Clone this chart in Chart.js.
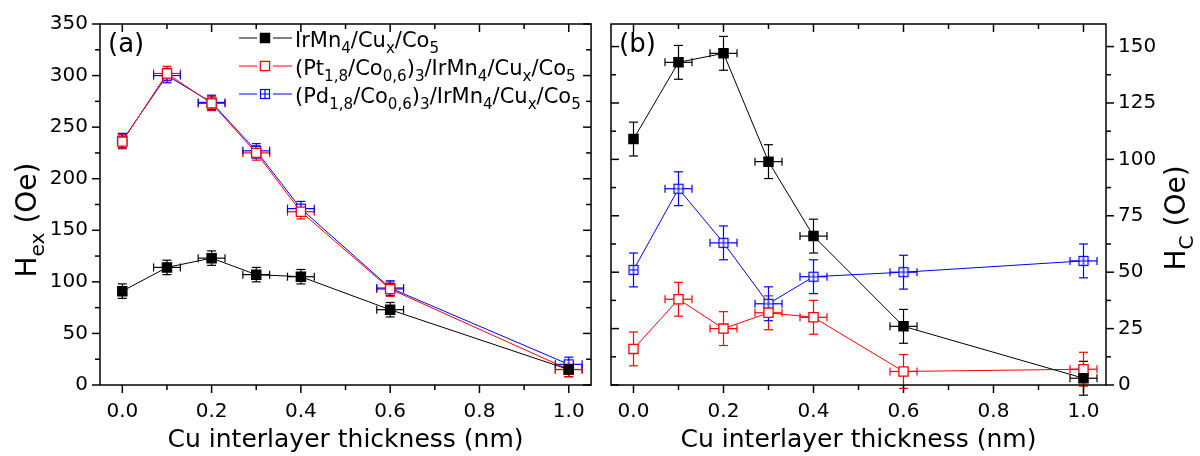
<!DOCTYPE html>
<html>
<head>
<meta charset="utf-8">
<script src="https://cdn.jsdelivr.net/npm/chart.js@4.4.1/dist/chart.umd.min.js"></script>
<style>
  html, body { margin: 0; padding: 0; background: #fff; }
  #wrap { position: relative; width: 1200px; height: 456px; }
  .panel { position: absolute; top: 0; width: 600px; height: 456px; }
</style>
</head>
<body>
<div id="wrap">
  <div class="panel" style="left:0"><canvas id="chartA" width="600" height="456"></canvas></div>
  <div class="panel" style="left:600px"><canvas id="chartB" width="600" height="456"></canvas></div>
</div>
<script>
// Data
const thickness = [0, 0.1, 0.2, 0.3, 0.4, 0.6, 1.0];
const thicknessErr = [0, 0.03, 0.03, 0.03, 0.03, 0.03, 0.03];

// (a) exchange bias field
const hexIrMn = [91, 114, 123, 107, 105, 73, 15];
const hexPt = [236, 302, 273, 225, 168, 93, 15];
const hexPd = [237, 300, 274, 227, 171, 94, 20];
const hexErr = [7, 7, 7, 7, 7, 7, 7];

// (b) coercive field
const hcIrMn = [109, 143, 147, 99, 66, 26, 3];
const hcPt = [16, 38, 25, 32, 30, 6, 7];
const hcPd = [51, 87, 63, 36, 48, 50, 55];
const hcErr = [7.5, 7.5, 7.5, 7.5, 7.5, 7.5, 7.5];

// Ticks
const xTicks = [0, 0.2, 0.4, 0.6, 0.8, 1.0];
const xMinorTicks = [0.1, 0.3, 0.5, 0.7, 0.9];
const hexTicks = [0, 50, 100, 150, 200, 250, 300, 350];
const hexMinorTicks = [25, 75, 125, 175, 225, 275, 325];
const hcTicks = [0, 25, 50, 75, 100, 125, 150];
const hcMinorTicks = [12.5, 37.5, 62.5, 87.5, 112.5, 137.5];

const seriesNames = [
  "IrMn_{4}/Cu_{x}/Co_{5}",
  "(Pt_{1,8}/Co_{0,6})_{3}/IrMn_{4}/Cu_{x}/Co_{5}",
  "(Pd_{1,8}/Co_{0,6})_{3}/IrMn_{4}/Cu_{x}/Co_{5}"
];

const FONT = '"DejaVu Sans", "Liberation Sans", sans-serif';
const BLACK = "#000000";
const RED = "#ff0000";
const BLUE = "#0000ff";

// Function library

function make_crossed_square() {
  // open square with a plus inside, for the Pd series
  const c = document.createElement("canvas");
  c.width = 12;
  c.height = 12;
  const g = c.getContext("2d");
  g.fillStyle = "#fff";
  g.fillRect(1.5, 1.5, 9, 9);
  g.strokeStyle = BLUE;
  g.lineWidth = 1.2;
  g.strokeRect(1.5, 1.5, 9, 9);
  g.beginPath();
  g.moveTo(6, 1.5); g.lineTo(6, 10.5);
  g.moveTo(1.5, 6); g.lineTo(10.5, 6);
  g.stroke();
  return c;
}
const crossedSquare = make_crossed_square();

function make_dataset(values, errs, color, filled) {
  return {
    data: thickness.map((x, i) => ({x: x, y: values[i]})),
    yErr: errs,
    xErr: thicknessErr,
    showLine: true,
    borderColor: color,
    borderWidth: 1,
    pointStyle: filled === "cross" ? crossedSquare : "rect",
    pointRadius: 6.5,
    pointHoverRadius: 6.5,
    pointBorderWidth: 1.3,
    pointBorderColor: color,
    pointBackgroundColor: filled === true ? color : "#fff"
  };
}

// split "A_{sub}B" into normal / subscript parts
function rich_parts(str) {
  const parts = [];
  const re = /_\{([^}]*)\}/g;
  let last = 0, m;
  while ((m = re.exec(str)) !== null) {
    if (m.index > last) parts.push({t: str.slice(last, m.index), sub: false});
    parts.push({t: m[1], sub: true});
    last = re.lastIndex;
  }
  if (last < str.length) parts.push({t: str.slice(last), sub: false});
  return parts;
}

function rich_width(ctx, str, size) {
  let w = 0;
  for (const p of rich_parts(str)) {
    ctx.font = (p.sub ? size * 0.72 : size) + "px " + FONT;
    w += ctx.measureText(p.t).width;
  }
  return w;
}

function draw_rich(ctx, str, x, y, size) {
  ctx.textBaseline = "alphabetic";
  ctx.textAlign = "left";
  for (const p of rich_parts(str)) {
    const s = p.sub ? size * 0.72 : size;
    ctx.font = s + "px " + FONT;
    ctx.fillText(p.t, x, y + (p.sub ? size * 0.3 : 0));
    x += ctx.measureText(p.t).width;
  }
}

function draw_marker(ctx, x, y, color, kind) {
  if (kind === "cross") {
    ctx.drawImage(crossedSquare, x - 6, y - 6);
    return;
  }
  ctx.fillStyle = kind === true ? color : "#fff";
  ctx.strokeStyle = color;
  ctx.lineWidth = 1.3;
  ctx.fillRect(x - 4.6, y - 4.6, 9.2, 9.2);
  ctx.strokeRect(x - 4.6, y - 4.6, 9.2, 9.2);
}

function line(ctx, x1, y1, x2, y2) {
  ctx.beginPath();
  ctx.moveTo(x1, y1);
  ctx.lineTo(x2, y2);
  ctx.stroke();
}

const originPlugin = {
  id: "origin",

  beforeDatasetsDraw(chart) {
    // error bars
    const ctx = chart.ctx, xs = chart.scales.x, ys = chart.scales.y;
    ctx.save();
    ctx.lineWidth = 1.2;
    chart.data.datasets.forEach(ds => {
      ctx.strokeStyle = ds.borderColor;
      ds.data.forEach((p, i) => {
        const px = xs.getPixelForValue(p.x);
        const py = ys.getPixelForValue(p.y);
        const ey = ds.yErr[i], ex = ds.xErr[i];
        if (ey > 0) {
          const t = ys.getPixelForValue(p.y + ey), b = ys.getPixelForValue(p.y - ey);
          line(ctx, px, t, px, b);
          line(ctx, px - 4.5, t, px + 4.5, t);
          line(ctx, px - 4.5, b, px + 4.5, b);
        }
        if (ex > 0) {
          const l = xs.getPixelForValue(p.x - ex), r = xs.getPixelForValue(p.x + ex);
          line(ctx, l, py, r, py);
          line(ctx, l, py - 4, l, py + 4);
          line(ctx, r, py - 4, r, py + 4);
        }
      });
    });
    ctx.restore();
  },

  afterDraw(chart, args, o) {
    const ctx = chart.ctx, a = chart.chartArea;
    const xs = chart.scales.x, ys = chart.scales.y;
    ctx.save();
    ctx.strokeStyle = "#000";
    ctx.fillStyle = "#000";
    ctx.lineWidth = 1.5;
    ctx.strokeRect(a.left, a.top, a.right - a.left, a.bottom - a.top);

    // x ticks: outward at the bottom, inward at the top
    const xt = [...xTicks.map(v => [v, 8]), ...xMinorTicks.map(v => [v, 5])];
    for (const [v, len] of xt) {
      const px = xs.getPixelForValue(v);
      line(ctx, px, a.bottom, px, a.bottom + len);
      line(ctx, px, a.top, px, a.top + len);
    }
    // y ticks: outward on the labelled side, inward on the other
    const yt = [...o.yMajor.map(v => [v, 8]), ...o.yMinor.map(v => [v, 5])];
    for (const [v, len] of yt) {
      const py = ys.getPixelForValue(v);
      if (o.side === "left") {
        line(ctx, a.left - len, py, a.left, py);
        line(ctx, a.right - len, py, a.right, py);
      } else {
        line(ctx, a.right, py, a.right + len, py);
        line(ctx, a.left, py, a.left + len, py);
      }
    }

    // axis titles
    const xw = rich_width(ctx, o.xTitle, 25);
    draw_rich(ctx, o.xTitle, (a.left + a.right) / 2 - xw / 2, 447, 25);

    const yw = rich_width(ctx, o.yTitle, 28);
    ctx.save();
    ctx.translate(o.yTitleX, o.yTitleY);
    ctx.rotate(-Math.PI / 2);
    draw_rich(ctx, o.yTitle, -yw / 2, 0, 28);
    ctx.restore();

    // panel label
    draw_rich(ctx, o.label, a.left + 8, 52, 26);

    // legend
    if (o.legend) {
      const kinds = [true, false, "cross"];
      chart.data.datasets.forEach((ds, i) => {
        const cy = 38 + i * 28;
        ctx.strokeStyle = ds.borderColor;
        ctx.lineWidth = 1;
        line(ctx, 239, cy, 257, cy);
        line(ctx, 273, cy, 292, cy);
        draw_marker(ctx, 265, cy, ds.borderColor, kinds[i]);
        ctx.fillStyle = "#000";
        draw_rich(ctx, seriesNames[i], 295, cy + 8.5, 21);
      });
    }
    ctx.restore();
  }
};

function make_options(yMin, yMax, yTicks, side, pluginOpts) {
  return {
    responsive: false,
    animation: false,
    events: [],
    layout: {
      padding: side === "left" ? {left: 0, right: 3, top: 18, bottom: 0}
                               : {left: 11, right: 0, top: 18, bottom: 0}
    },
    plugins: {
      legend: {display: false},
      tooltip: {enabled: false},
      origin: pluginOpts
    },
    scales: {
      x: {
        type: "linear",
        min: -0.05,
        max: 1.05,
        afterBuildTicks: s => { s.ticks = xTicks.map(v => ({value: v})); },
        afterFit: s => { s.height = 71; },
        grid: {display: false, drawTicks: false},
        border: {display: false},
        ticks: {
          padding: 15,
          color: "#000",
          font: {family: FONT, size: 20},
          callback: v => Number(v).toFixed(1)
        }
      },
      y: {
        type: "linear",
        position: side,
        min: yMin,
        max: yMax,
        afterBuildTicks: s => { s.ticks = yTicks.map(v => ({value: v})); },
        afterFit: s => { s.width = side === "left" ? 100 : 94; },
        grid: {display: false, drawTicks: false},
        border: {display: false},
        ticks: {
          padding: 12,
          color: "#000",
          font: {family: FONT, size: 20},
          callback: v => String(v)
        }
      }
    }
  };
}

// (a) Hex
new Chart(document.getElementById("chartA"), {
  type: "scatter",
  data: {
    datasets: [
      make_dataset(hexIrMn, hexErr, BLACK, true),
      make_dataset(hexPt, hexErr, RED, false),
      make_dataset(hexPd, hexErr, BLUE, "cross")
    ]
  },
  options: make_options(0, 350, hexTicks, "left", {
    side: "left",
    yMajor: hexTicks,
    yMinor: hexMinorTicks,
    xTitle: "Cu interlayer thickness (nm)",
    yTitle: "H_{ex} (Oe)",
    yTitleX: 36,
    yTitleY: 220,
    label: "(a)",
    legend: true
  }),
  plugins: [originPlugin]
});

// (b) Hc
new Chart(document.getElementById("chartB"), {
  type: "scatter",
  data: {
    datasets: [
      make_dataset(hcIrMn, hcErr, BLACK, true),
      make_dataset(hcPt, hcErr, RED, false),
      make_dataset(hcPd, hcErr, BLUE, "cross")
    ]
  },
  options: make_options(0, 160, hcTicks, "right", {
    side: "right",
    yMajor: hcTicks,
    yMinor: hcMinorTicks,
    xTitle: "Cu interlayer thickness (nm)",
    yTitle: "H_{C} (Oe)",
    yTitleX: 585,
    yTitleY: 218,
    label: "(b)",
    legend: false
  }),
  plugins: [originPlugin]
});
</script>
</body>
</html>
